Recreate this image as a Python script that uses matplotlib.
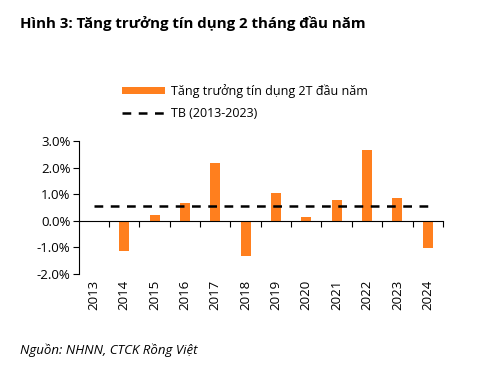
import matplotlib.pyplot as plt
from matplotlib.ticker import FuncFormatter

years = ["2013", "2014", "2015", "2016", "2017", "2018",
         "2019", "2020", "2021", "2022", "2023", "2024"]
credit_growth = [0.0, -1.15, 0.20, 0.65, 2.16, -1.32,
                 1.04, 0.16, 0.77, 2.65, 0.84, -1.03]
avg_2013_2023 = 0.57

orange = "#ff7f1e"
plt.rcParams["font.family"] = ["Open Sans", "DejaVu Sans"]

fig = plt.figure(figsize=(5.01, 3.71), dpi=100)
ax = fig.add_axes([0.157, 0.2615, 0.727, 0.3585])

x = range(len(years))
bars = ax.bar(x, credit_growth, width=0.33, color=orange,
              label="Tăng trưởng tín dụng 2T đầu năm")
avg_line, = ax.plot(x, [avg_2013_2023] * len(years), color="black", lw=1.8,
                    ls=(0, (3.5, 3)), label="TB (2013-2023)")

ax.set_xlim(-0.5, len(years) - 0.5)
ax.set_ylim(-2, 3)
ax.set_yticks([-2, -1, 0, 1, 2, 3])
ax.yaxis.set_major_formatter(FuncFormatter(lambda v, p: f"{v:.1f}%"))
ax.tick_params(axis="y", labelsize=9.5, length=4, width=0.8, pad=2)

ax.spines[["top", "right"]].set_visible(False)
ax.spines["left"].set_linewidth(0.8)
ax.spines["bottom"].set_position(("data", 0))
ax.spines["bottom"].set_linewidth(0.8)

# ticks at category boundaries, labels below the plot
ax.set_xticks([i + 0.5 for i in x])
ax.set_xticklabels([])
ax.tick_params(axis="x", length=4, width=0.8)
for i, yr in enumerate(years):
    ax.text(i, -2.22, yr, rotation=90, ha="center", va="top", fontsize=9.5)

ax.legend([bars, avg_line], [bars.get_label(), avg_line.get_label()],
          loc="upper left", bbox_to_anchor=(0.222, 0.805), bbox_transform=fig.transFigure,
          frameon=False, fontsize=9, handlelength=3.4, handleheight=0.5,
          labelspacing=0.75, handletextpad=0.45)

fig.text(0.04, 0.925, "Hình 3: Tăng trưởng tín dụng 2 tháng đầu năm",
         fontsize=10.8, fontweight="bold")
fig.text(0.04, 0.045, "Nguồn: NHNN, CTCK Rồng Việt", fontsize=9.5, style="italic")

fig.savefig("out.png", dpi=100)
